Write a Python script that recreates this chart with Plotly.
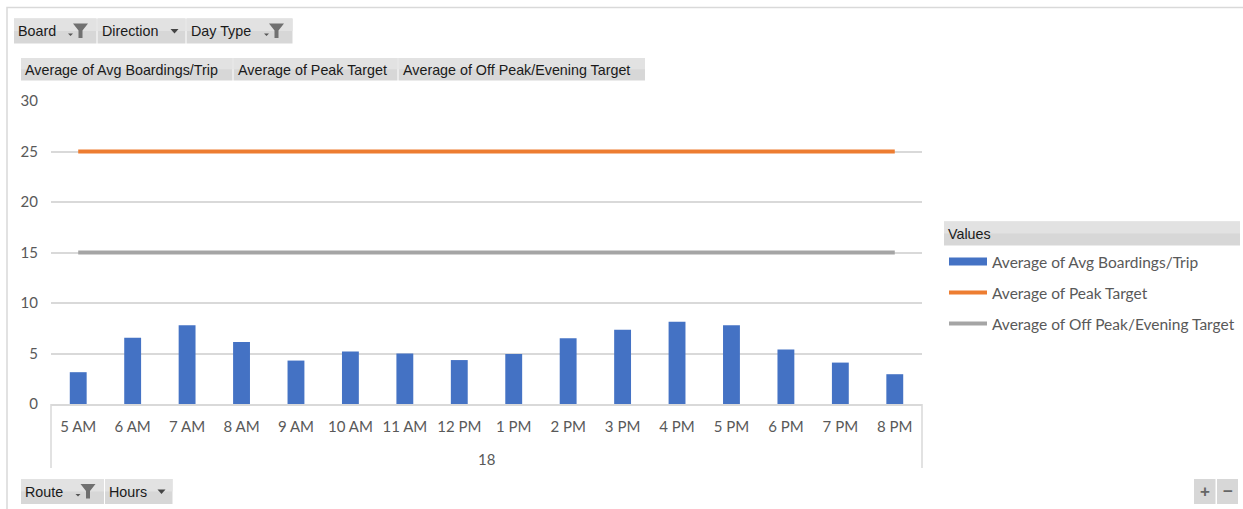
import plotly.graph_objects as go

hours = ["5 AM", "6 AM", "7 AM", "8 AM", "9 AM", "10 AM", "11 AM", "12 PM",
         "1 PM", "2 PM", "3 PM", "4 PM", "5 PM", "6 PM", "7 PM", "8 PM"]
route = "18"
avg_boardings = [3.15, 6.55, 7.8, 6.15, 4.3, 5.2, 5.0, 4.35,
                 4.95, 6.5, 7.35, 8.15, 7.8, 5.4, 4.1, 2.95]
peak_target = [25] * 16
offpeak_target = [15] * 16

W, H = 1243, 509
L, R, T, B = 51, 922, 101, 404

def px(x):
    return (x - L) / (R - L)

def py(y):
    return (B - y) / (B - T)

BLUE, ORANGE, GRAY = "#4472C4", "#ED7D31", "#A5A5A5"
TXT = "#595959"
TICKFONT = dict(family="Lato", size=15, color=TXT)

fig = go.Figure()
fig.add_trace(go.Bar(x=hours, y=avg_boardings, marker=dict(color=BLUE, line=dict(width=0)),
                     name="Average of Avg Boardings/Trip", showlegend=False,
                     legendgroup="a"))
fig.add_trace(go.Scatter(x=hours, y=peak_target, mode="lines",
                         line=dict(color=ORANGE, width=4),
                         name="Average of Peak Target", legend="legend2"))
fig.add_trace(go.Scatter(x=hours, y=offpeak_target, mode="lines",
                         line=dict(color=GRAY, width=4),
                         name="Average of Off Peak/Evening Target", legend="legend3"))
# legend swatch for the bar series (wide rectangle like the original)
fig.add_trace(go.Scatter(x=[None], y=[None], mode="lines",
                         line=dict(color=BLUE, width=8),
                         name="Average of Avg Boardings/Trip", legend="legend",
                         legendgroup="a"))

shapes = []
annotations = []

# outer border
shapes.append(dict(type="rect", xref="paper", yref="paper",
                   x0=px(7), x1=px(1260), y0=py(7.5), y1=py(530),
                   line=dict(color="#d9d9d9", width=1.5), fillcolor="rgba(0,0,0,0)",
                   layer="below"))

# outer category group: dividers and label
for xd in (0, 1):
    shapes.append(dict(type="line", xref="paper", yref="paper",
                       x0=xd, x1=xd, y0=0, y1=py(468),
                       line=dict(color="#d9d9d9", width=1.5), layer="below"))
annotations.append(dict(text=route, xref="paper", yref="paper", x=0.5, y=py(459),
                        xanchor="center", yanchor="middle", showarrow=False,
                        font=TICKFONT))

BTN_FILL = "#d7d7d7"
BTN_FONT = dict(family="Liberation Sans", size=14.3, color="#1a1a1a")

def button(x0, y0, x1, y1, label, icon=None):
    shapes.append(dict(type="rect", xref="paper", yref="paper",
                       x0=px(x0), x1=px(x1), y0=py(y0), y1=py(y1),
                       line=dict(width=0), fillcolor=BTN_FILL, layer="below"))
    shapes.append(dict(type="rect", xref="paper", yref="paper",
                       x0=px(x0), x1=px(x1), y0=py(y0), y1=py((y0 + y1) / 2),
                       line=dict(width=0), fillcolor="#e2e2e2", layer="below"))
    annotations.append(dict(text=label, xref="paper", yref="paper",
                            x=px(x0 + 2), y=py((y0 + y1) / 2 + 0.5),
                            xanchor="left", yanchor="middle", showarrow=False,
                            font=BTN_FONT))
    cy = (y0 + y1) / 2
    if icon == "filter":
        fx = x1 - 23.5  # funnel left
        # small dropdown arrow
        ax = fx - 5
        shapes.append(dict(type="path", xref="paper", yref="paper",
                           path=f"M{px(ax)},{py(cy+2.5)} L{px(ax+5)},{py(cy+2.5)} L{px(ax+2.5)},{py(cy+5)} Z",
                           fillcolor="#555555", line=dict(width=0)))
        # funnel
        shapes.append(dict(type="path", xref="paper", yref="paper",
                           path=(f"M{px(fx)},{py(cy-7.5)} L{px(fx+15)},{py(cy-7.5)} "
                                 f"L{px(fx+9.5)},{py(cy-0.5)} L{px(fx+9.5)},{py(cy+7)} "
                                 f"L{px(fx+5.5)},{py(cy+7)} L{px(fx+5.5)},{py(cy-0.5)} Z"),
                           fillcolor="#707070", line=dict(width=0)))
    elif icon == "drop":
        ax = x1 - 15
        shapes.append(dict(type="path", xref="paper", yref="paper",
                           path=f"M{px(ax)},{py(cy-2)} L{px(ax+8)},{py(cy-2)} L{px(ax+4)},{py(cy+2.5)} Z",
                           fillcolor="#444444", line=dict(width=0)))

button(14, 18.5, 96.5, 43.5, "Board", "filter")
button(97.5, 18.5, 185.5, 43.5, "Direction", "drop")
button(186.5, 18.5, 292.5, 43.5, "Day Type", "filter")
button(21, 58, 232.5, 80.5, "Average of Avg Boardings/Trip")
button(233.5, 58, 397.5, 80.5, "Average of Peak Target")
button(398.5, 58, 645, 80.5, "Average of Off Peak/Evening Target")
button(21, 479, 104, 504, "Route", "filter")
button(105, 479, 172.5, 504, "Hours", "drop")

# +/- buttons
for (bx0, bx1, sym) in [(1194, 1215.5, "+"), (1217, 1238, "−")]:
    shapes.append(dict(type="rect", xref="paper", yref="paper",
                       x0=px(bx0), x1=px(bx1), y0=py(479), y1=py(504),
                       line=dict(width=0), fillcolor=BTN_FILL, layer="below"))
    annotations.append(dict(text=f"<b>{sym}</b>", xref="paper", yref="paper",
                            x=px((bx0 + bx1) / 2), y=py(491.5), showarrow=False,
                            xanchor="center", yanchor="middle",
                            font=dict(family="Liberation Sans", size=17, color="#666666")))

# legend header "Values"
shapes.append(dict(type="rect", xref="paper", yref="paper",
                   x0=px(944), x1=px(1240), y0=py(221.5), y1=py(245.5),
                   line=dict(width=0), fillcolor=BTN_FILL, layer="below"))
shapes.append(dict(type="rect", xref="paper", yref="paper",
                   x0=px(944), x1=px(1240), y0=py(221.5), y1=py(233.5),
                   line=dict(width=0), fillcolor="#e2e2e2", layer="below"))
annotations.append(dict(text="Values", xref="paper", yref="paper",
                        x=px(946), y=py(234), xanchor="left", yanchor="middle",
                        showarrow=False, font=BTN_FONT))

legend_common = dict(xref="container", yref="container", xanchor="left",
                     yanchor="middle", bgcolor="rgba(0,0,0,0)", borderwidth=0,
                     font=dict(family="Lato", size=15.5, color=TXT),
                     itemwidth=38, itemclick=False, itemdoubleclick=False)

fig.update_layout(
    width=W, height=H,
    margin=dict(l=L, r=W - R, t=T, b=H - B, pad=0),
    paper_bgcolor="white", plot_bgcolor="white",
    bargap=0.69,
    showlegend=True,
    legend=dict(x=944 / W, y=1 - 262 / H, **legend_common),
    legend2=dict(x=944 / W, y=1 - 293 / H, **legend_common),
    legend3=dict(x=944 / W, y=1 - 324 / H, **legend_common),
    xaxis=dict(type="category", showgrid=False, showline=True,
               linecolor="#d9d9d9", linewidth=1.5, ticks="",
               tickfont=TICKFONT, fixedrange=True, ticklabelstandoff=8),
    yaxis=dict(range=[0, 30], tickvals=[0, 5, 10, 15, 20, 25, 30],
               showgrid=True, gridcolor="#d9d9d9", gridwidth=1.5,
               zeroline=False, showline=False, ticks="",
               tickfont=TICKFONT, ticklabelstandoff=12, fixedrange=True),
    shapes=shapes,
    annotations=annotations,
)

fig.write_html("out.html")
